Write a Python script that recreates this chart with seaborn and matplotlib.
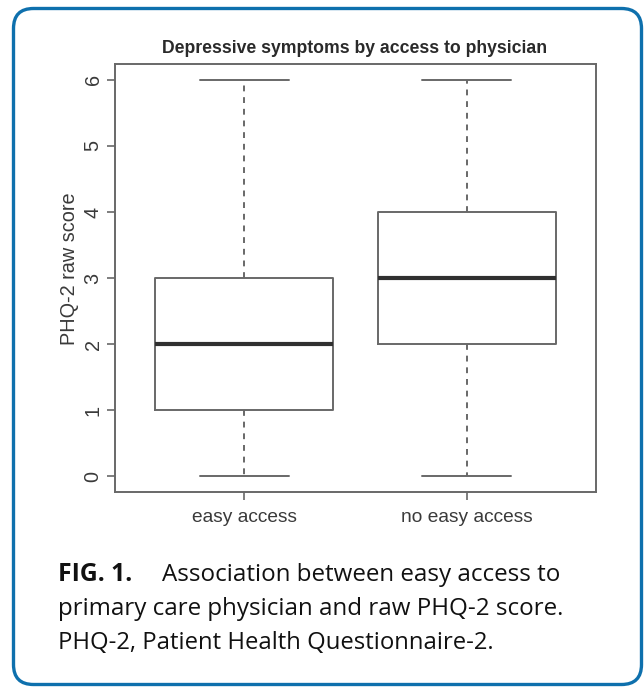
import matplotlib
matplotlib.use("Agg")
import matplotlib.pyplot as plt
from matplotlib.patches import FancyBboxPatch
import seaborn as sns
import pandas as pd

# five-number summaries (min, Q1, median, Q3, max)
groups = ["easy access", "no easy access"]
easy_access = [0, 1, 2, 3, 6]
no_easy_access = [0, 2, 3, 4, 6]
y_ticks = [0, 1, 2, 3, 4, 5, 6]

title = "Depressive symptoms by access to physician"
y_label = "PHQ-2 raw score"
caption_bold = "FIG. 1."
caption_lines = ["Association between easy access to",
                 "primary care physician and raw PHQ-2 score.",
                 "PHQ-2, Patient Health Questionnaire-2."]

df = pd.DataFrame({
    "group": [groups[0]] * len(easy_access) + [groups[1]] * len(no_easy_access),
    "score": easy_access + no_easy_access,
})

sns.set_style("white")
plt.rcParams["font.family"] = ["Liberation Sans", "DejaVu Sans"]

W, H = 644, 688
fig = plt.figure(figsize=(W / 100, H / 100), dpi=100)
ax = fig.add_axes([115 / W, 1 - 492 / H, (596 - 115) / W, (492 - 64) / H])

line_c = "#686868"
text_c = "#3a3a3a"

sns.boxplot(data=df, x="group", y="score", ax=ax, width=0.8, fill=False,
            color=line_c, linewidth=1.4, whis=1.5,
            whiskerprops={"linestyle": (0, (3, 3)), "color": line_c},
            capprops={"color": line_c},
            medianprops={"color": "#303030", "linewidth": 3},
            boxprops={"color": line_c})

ax.set_xlim(-0.58, 1.58)
ax.set_ylim(-0.24, 6.24)
ax.set_yticks(y_ticks)
ax.set_yticklabels([str(v) for v in y_ticks], rotation=90, va="center")
ax.set_xlabel("")
ax.set_ylabel(y_label, fontsize=14.3, color=text_c)
ax.yaxis.set_label_coords((79 - 115) / (596 - 115), (492 - 269) / (492 - 64))
ax.tick_params(axis="both", direction="out", length=6, width=1.2, color=line_c,
               labelcolor=text_c, left=True, bottom=True)
ax.tick_params(axis="y", labelsize=14.3, pad=3)
ax.tick_params(axis="x", labelsize=13.8, pad=6)
for s in ax.spines.values():
    s.set_color(line_c)
    s.set_linewidth(1.4)

fig.text(355 / W, 1 - 53 / H, title, ha="center", va="baseline",
         fontsize=12.7, fontweight="bold", color="#2a2a2a")

# caption
cap_font = ["Open Sans", "DejaVu Sans"]
fig.text(58 / W, 1 - 581 / H, caption_bold, ha="left", va="baseline",
         fontsize=17.8, fontweight="bold", family=cap_font, color="#111111")
fig.text(162 / W, 1 - 581 / H, caption_lines[0], ha="left", va="baseline",
         fontsize=17.4, family=cap_font, color="#111111")
fig.text(58 / W, 1 - 615 / H, caption_lines[1], ha="left", va="baseline",
         fontsize=17.4, family=cap_font, color="#111111")
fig.text(58 / W, 1 - 649 / H, caption_lines[2], ha="left", va="baseline",
         fontsize=17.2, family=cap_font, color="#111111")

# rounded blue frame, drawn in inches so the corners stay circular
frame = FancyBboxPatch((13.5 / 100, 3.5 / 100), 628 / 100, 676 / 100,
                       boxstyle="round,pad=0,rounding_size=0.2",
                       transform=fig.dpi_scale_trans, fill=False,
                       edgecolor="#0e70ad", linewidth=2.4, clip_on=False)
fig.patches.append(frame)

fig.savefig("out.png", dpi=100)
